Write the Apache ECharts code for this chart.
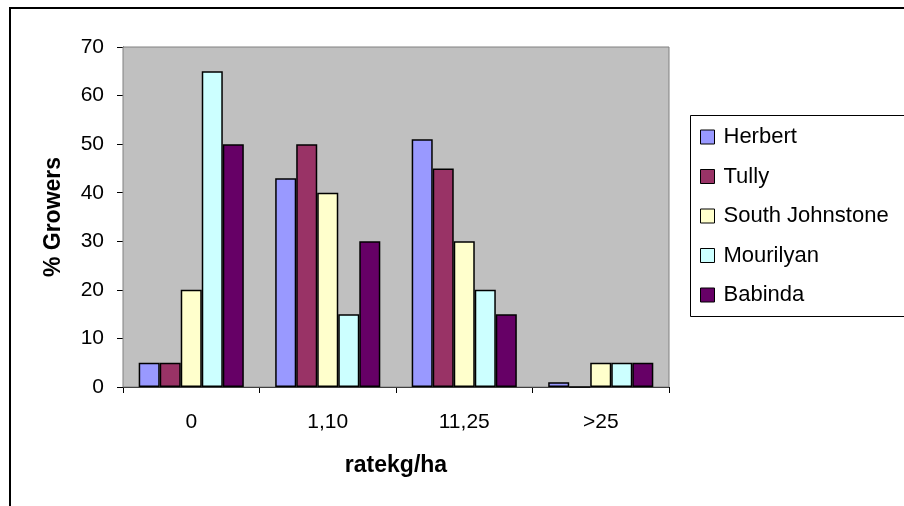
<!DOCTYPE html>
<html>
<head>
<meta charset="utf-8">
<script src="https://cdn.jsdelivr.net/npm/echarts@6/dist/echarts.min.js"></script>
<style>
  html, body { margin: 0; padding: 0; background: #ffffff; }
  #chart { width: 904px; height: 506px; }
</style>
</head>
<body>
<div id="chart"></div>
<script>
// Application rate classes (kg/ha)
const categories = ['0', '1,10', '11,25', '>25'];

// Percentage of growers in each mill district
const herbert        = [5, 43, 51, 1];
const tully          = [5, 50, 45, 0];
const southJohnstone = [20, 40, 30, 5];
const mourilyan      = [65, 15, 20, 5];
const babinda        = [50, 30, 15, 5];

const yTicks = [0, 10, 20, 30, 40, 50, 60, 70];

const seriesDefs = [
  { name: 'Herbert',         data: herbert,        color: '#9999FF' },
  { name: 'Tully',           data: tully,          color: '#993366' },
  { name: 'South Johnstone', data: southJohnstone, color: '#FFFFCC' },
  { name: 'Mourilyan',       data: mourilyan,      color: '#CCFFFF' },
  { name: 'Babinda',         data: babinda,        color: '#660066' }
];

const FONT = '"Liberation Sans", Arial, sans-serif';

const chart = echarts.init(document.getElementById('chart'), null, { renderer: 'canvas' });

chart.setOption({
  backgroundColor: '#ffffff',
  animation: false,
  textStyle: { fontFamily: FONT, color: '#000' },
  graphic: [
    // outer chart frame
    { type: 'rect', z: 0, silent: true,
      shape: { x: 10, y: 8, width: 920, height: 520 },
      style: { fill: '#ffffff', stroke: '#000', lineWidth: 2 } },
    // legend frame
    { type: 'rect', z: 1, silent: true,
      shape: { x: 690.5, y: 115.5, width: 240, height: 201 },
      style: { fill: '#ffffff', stroke: '#000', lineWidth: 1 } }
  ],
  grid: {
    left: 123, top: 47, width: 546, height: 340,
    show: true, backgroundColor: '#C0C0C0', borderColor: '#808080', borderWidth: 1,
    containLabel: false, z: 2
  },
  legend: {
    orient: 'vertical',
    left: 695, top: 121,
    itemWidth: 14, itemHeight: 14, itemGap: 17.5,
    icon: 'rect',
    z: 5,
    textStyle: { fontFamily: FONT, fontSize: 22, color: '#000', padding: [0, 0, 0, 4] },
    itemStyle: { borderColor: '#000', borderWidth: 1 },
    data: seriesDefs.map(s => s.name)
  },
  xAxis: {
    type: 'category',
    data: categories,
    name: 'ratekg/ha',
    nameLocation: 'middle',
    nameGap: 67,
    nameTextStyle: { fontFamily: FONT, fontSize: 23, fontWeight: 'bold', color: '#000' },
    axisLine: { lineStyle: { color: '#000', width: 1 } },
    axisTick: { show: true, length: 6, inside: false, lineStyle: { color: '#000' } },
    axisLabel: { fontFamily: FONT, fontSize: 21, color: '#000', margin: 25 },
    splitLine: { show: false }
  },
  yAxis: {
    type: 'value',
    min: yTicks[0], max: yTicks[yTicks.length - 1], interval: 10,
    name: '% Growers',
    nameLocation: 'middle',
    nameGap: 58,
    nameTextStyle: { fontFamily: FONT, fontSize: 23, fontWeight: 'bold', color: '#000' },
    axisLine: { show: true, lineStyle: { color: '#000', width: 1 } },
    axisTick: { show: true, length: 6, lineStyle: { color: '#000' } },
    axisLabel: { fontFamily: FONT, fontSize: 21, color: '#000', margin: 19 },
    splitLine: { show: true, lineStyle: { color: '#000', width: 1 } }
  },
  series: seriesDefs.map(s => ({
    name: s.name,
    type: 'bar',
    data: s.data,
    barGap: '0%',
    barCategoryGap: '23%',
    z: 3,
    itemStyle: { color: s.color, borderColor: '#000', borderWidth: 1.5 }
  }))
});
</script>
</body>
</html>
